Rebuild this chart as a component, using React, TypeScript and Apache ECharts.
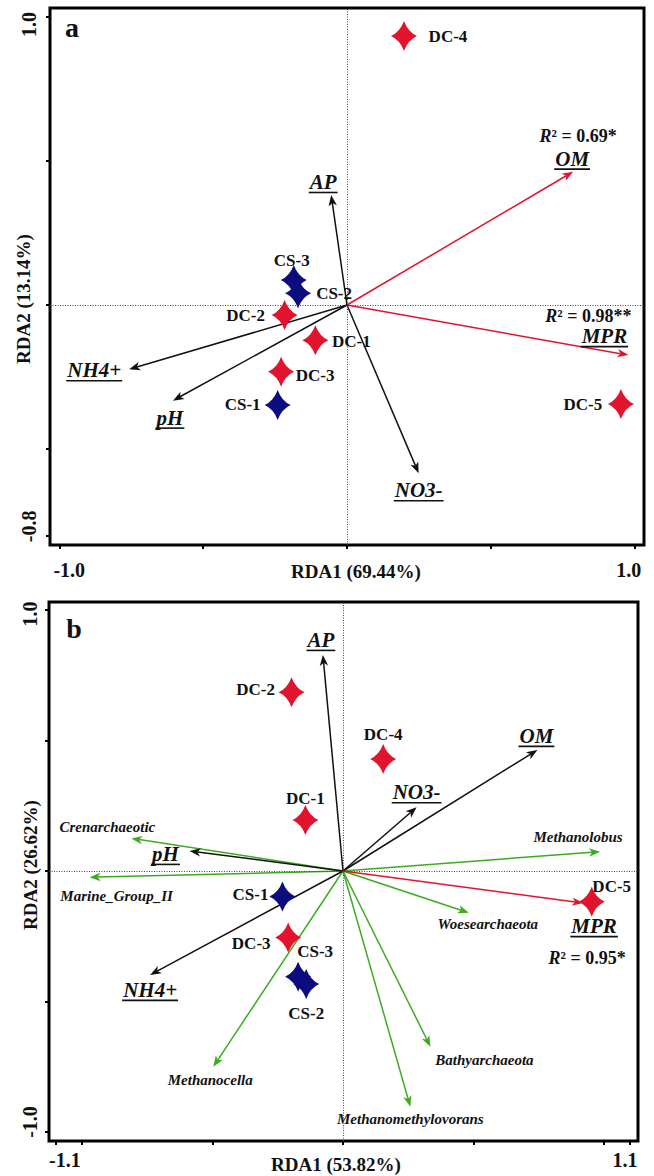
import React, { useEffect, useRef } from 'react';
import * as echarts from 'echarts';

const FONT = '"Liberation Serif", "Times New Roman", Times, serif';
const RED = '#E2142D';
const NAVY = '#0C0C7E';
const GREEN = '#3DAA22';
const INK = '#111111';

// ---------------- Panel a ----------------
const titleXA = 'RDA1 (69.44%)';
const titleYA = 'RDA2 (13.14%)';
const xTicksA = [-1, -0.5, 0, 0.5, 1];
const xTickLabelsA = [-1, 1];
const yTicksA = [-0.8, -0.5, 0, 0.5, 1];
const yTickLabelsA = [-0.8, 1];
const sitesA = ['DC-1', 'DC-2', 'DC-3', 'DC-4', 'DC-5', 'CS-1', 'CS-2', 'CS-3'];
const siteXA = [-0.110, -0.217, -0.229, 0.198, 0.952, -0.241, -0.170, -0.185];
const siteYA = [-0.122, -0.035, -0.232, 0.934, -0.344, -0.347, 0.041, 0.087];
const envA = ['AP', 'OM', 'MPR', 'NH4+', 'pH', 'NO3-'];
const envXA = [-0.055, 0.786, 0.978, -0.757, -0.605, 0.249];
const envYA = [0.382, 0.463, -0.174, -0.223, -0.332, -0.584];
const envSigA = [false, true, true, false, false, false];
const envR2A = ['', '0.69*', '0.98**', '', '', ''];

// ---------------- Panel b ----------------
const titleXB = 'RDA1 (53.82%)';
const titleYB = 'RDA2 (26.62%)';
const xTicksB = [-1.1, -1, -0.5, 0, 0.5, 1, 1.1];
const xTickLabelsB = [-1.1, 1.1];
const yTicksB = [-1, -0.5, 0, 0.5, 1];
const yTickLabelsB = [-1, 1];
const sitesB = ['DC-1', 'DC-2', 'DC-3', 'DC-4', 'DC-5', 'CS-1', 'CS-2', 'CS-3'];
const siteXB = [-0.144, -0.197, -0.210, 0.154, 0.953, -0.232, -0.141, -0.172];
const siteYB = [0.195, 0.685, -0.255, 0.429, -0.118, -0.098, -0.433, -0.405];
const envB = ['AP', 'OM', 'NO3-', 'pH', 'NH4+', 'MPR'];
const envXB = [-0.077, 0.745, 0.282, -0.588, -0.739, 0.920];
const envYB = [0.828, 0.464, 0.244, 0.077, -0.398, -0.123];
const envSigB = [false, false, false, false, false, true];
const envR2B = ['', '', '', '', '', '0.95*'];
const taxaB = ['Crenarchaeotic', 'Marine_Group_II', 'Methanolobus', 'Woesearchaeota', 'Bathyarchaeota', 'Methanomethylovorans', 'Methanocella'];
const taxaXB = [-0.811, -0.971, 0.985, 0.482, 0.335, 0.258, -0.497];
const taxaYB = [0.125, -0.024, 0.074, -0.160, -0.673, -0.903, -0.750];

// ---------------- layout (pixels / axis extents) ----------------
const GRID_A = { left: 50, top: 8, width: 594, height: 537 };
const GRID_B = { left: 49, top: 602, width: 589, height: 539 };
const RANGE_A = { xMin: -1.0323, xMax: 1.0323, yMin: -0.8333, yMax: 1.0313 };
const RANGE_B = { xMin: -1.1264, xMax: 1.1303, yMin: -1.0345, yMax: 1.0307 };

const siteOffA: Record<string, number[]> = {
  'DC-1': [36, 1], 'DC-2': [-39, 0], 'DC-3': [34, 4], 'DC-4': [44, 0],
  'DC-5': [-38, 0], 'CS-1': [-35, 0], 'CS-2': [36, 0], 'CS-3': [-2, -19],
};
const siteOffB: Record<string, number[]> = {
  'DC-1': [0, -22], 'DC-2': [-36, -3], 'DC-3': [-37, 6], 'DC-4': [0, -25],
  'DC-5': [20, -15], 'CS-1': [-32, -2], 'CS-2': [0, 29], 'CS-3': [17, -25],
};
const envOffA: Record<string, number[]> = {
  AP: [-8, -13], OM: [-1, -13], MPR: [-24, -19], 'NH4+': [-35, 1], pH: [-3, 17], 'NO3-': [0, 17],
};
const r2OffA: Record<string, number[]> = { OM: [5, -36], MPR: [-40, -39] };
const envOffB: Record<string, number[]> = {
  AP: [-2, -15], OM: [-1, -14], 'NO3-': [0, -15], pH: [-24, 3], 'NH4+': [0, 15], MPR: [11, 23],
};
const r2OffB: Record<string, number[]> = { MPR: [4, 55] };
const taxaOffB: Record<string, number[]> = {
  Crenarchaeotic: [-24, -11], Marine_Group_II: [27, 19], Methanolobus: [-22, -15],
  Woesearchaeota: [19, 11], Bathyarchaeota: [54, 13], Methanomethylovorans: [0, 12], Methanocella: [-3, 13],
};

const STAR = 'path://M0,-15 Q4,-4 13,0 Q4,4 0,15 Q-4,4 -13,0 Q-4,-4 0,-15 Z';

let measureCtx: CanvasRenderingContext2D | null = null;
function textWidth(t: string, font: string) {
  if (!measureCtx) measureCtx = document.createElement('canvas').getContext('2d');
  if (!measureCtx) return t.length * 10;
  measureCtx.font = font;
  return measureCtx.measureText(t).width;
}

type VecOpts = {
  grid: number;
  names: string[];
  xs: number[];
  ys: number[];
  color: (i: number) => string;
  labelOff: Record<string, number[]>;
  fontSize: number;
  underline: boolean;
  r2?: string[];
  r2Off?: Record<string, number[]>;
  z: number;
  zeroLines?: boolean;
};

function vectorSeries(o: VecOpts) {
  const varFont = `italic bold ${o.fontSize}px ${FONT}`;
  const s: any = {
    type: 'custom',
    xAxisIndex: o.grid,
    yAxisIndex: o.grid,
    z: o.z,
    silent: true,
    clip: false,
    data: o.names.map((n, i) => [o.xs[i], o.ys[i]]),
    encode: { x: 0, y: 1 },
    renderItem: (params: any, api: any) => {
      const i = params.dataIndex;
      const name = o.names[i];
      const col = o.color(i);
      const p0 = api.coord([0, 0]);
      const p1 = api.coord([api.value(0), api.value(1)]);
      const dx = p1[0] - p0[0];
      const dy = p1[1] - p0[1];
      const len = Math.hypot(dx, dy) || 1;
      const ux = dx / len, uy = dy / len;
      const px = -uy, py = ux;
      const L = 11, W = 4.2, N = 3;
      const bx = p1[0] - ux * L, by = p1[1] - uy * L;
      const nx = p1[0] - ux * (L - N), ny = p1[1] - uy * (L - N);
      const children: any[] = [
        { type: 'line', shape: { x1: p0[0], y1: p0[1], x2: nx, y2: ny }, style: { stroke: col, lineWidth: 1.5 } },
        {
          type: 'polygon',
          shape: { points: [[p1[0], p1[1]], [bx + px * W, by + py * W], [nx, ny], [bx - px * W, by - py * W]] },
          style: { fill: col },
        },
      ];
      const off = o.labelOff[name] || [0, 0];
      const cx = p1[0] + off[0], cy = p1[1] + off[1];
      children.push({
        type: 'text', x: cx, y: cy,
        style: {
          text: name, fill: INK, fontFamily: FONT, fontWeight: 'bold', fontStyle: 'italic',
          fontSize: o.fontSize, align: 'center', verticalAlign: 'middle',
        },
      });
      if (o.underline) {
        const w = textWidth(name, varFont);
        const uy2 = cy + o.fontSize * 0.5;
        children.push({
          type: 'line',
          shape: { x1: cx - w / 2 - 1, y1: uy2, x2: cx + w / 2 + 1, y2: uy2 },
          style: { stroke: INK, lineWidth: 1.6 },
        });
      }
      if (o.r2 && o.r2[i]) {
        const ro = (o.r2Off && o.r2Off[name]) || [0, -30];
        children.push({
          type: 'text', x: p1[0] + ro[0], y: p1[1] + ro[1],
          style: {
            text: `{ri|R}{n|\u00B2 = ${o.r2[i]}}`,
            align: 'center', verticalAlign: 'middle',
            rich: {
              ri: { fontFamily: FONT, fontWeight: 'bold', fontStyle: 'italic', fontSize: 18, fill: INK },
              n: { fontFamily: FONT, fontWeight: 'bold', fontSize: 18, fill: INK },
            },
          },
        });
      }
      return { type: 'group', children };
    },
  };
  if (o.zeroLines) {
    s.markLine = {
      silent: true,
      symbol: ['none', 'none'],
      label: { show: false },
      lineStyle: { type: [1, 1.5], color: '#444', width: 1 },
      data: [{ xAxis: 0 }, { yAxis: 0 }],
    };
  }
  return s;
}

function siteSeries(grid: number, names: string[], xs: number[], ys: number[], off: Record<string, number[]>) {
  return {
    type: 'scatter',
    xAxisIndex: grid,
    yAxisIndex: grid,
    z: 6,
    silent: true,
    symbol: STAR,
    symbolSize: [26, 30],
    itemStyle: { opacity: 1 },
    data: names.map((n, i) => ({
      name: n,
      value: [xs[i], ys[i]],
      itemStyle: { color: n.startsWith('DC') ? RED : NAVY, opacity: 1 },
      label: { offset: off[n] || [0, 0] },
    })),
    label: {
      show: true, position: 'inside', formatter: '{b}', color: INK, opacity: 1,
      textBorderWidth: 0,
      fontFamily: FONT, fontWeight: 'bold', fontSize: 17, align: 'center', verticalAlign: 'middle',
    },
  };
}

const tickFont = { fontFamily: FONT, fontWeight: 'bold' as const, fontSize: 20, color: INK };

function xAxisFor(grid: number, range: any, ticks: number[], labels: number[], margin: number, padLo: number, padHi: number) {
  return {
    type: 'value', gridIndex: grid, min: range.xMin, max: range.xMax,
    axisLine: { show: false, onZero: false },
    axisTick: { show: true, inside: false, length: 4, customValues: ticks, lineStyle: { color: '#000', width: 2 } },
    splitLine: { show: false },
    axisLabel: {
      show: true, customValues: labels, margin,
      formatter: (v: number) => (v < 0 ? `{lo|${v.toFixed(1)}}` : `{hi|${v.toFixed(1)}}`),
      rich: {
        lo: { ...tickFont, padding: [0, 0, 0, padLo] },
        hi: { ...tickFont, padding: [0, padHi, 0, 0] },
      },
    },
  };
}

function yAxisFor(grid: number, range: any, ticks: number[], labels: number[], margin: number, padTop: number, padBot: number) {
  return {
    type: 'value', gridIndex: grid, min: range.yMin, max: range.yMax,
    axisLine: { show: false, onZero: false },
    axisTick: { show: true, inside: false, length: 4, customValues: ticks, lineStyle: { color: '#000', width: 2 } },
    splitLine: { show: false },
    axisLabel: {
      show: true, customValues: labels, margin, rotate: 90,
      formatter: (v: number) => (v > 0 ? `{top|${v.toFixed(1)}}` : `{bot|${v.toFixed(1)}}`),
      rich: {
        top: { ...tickFont, padding: [0, padTop, 0, 0] },
        bot: { ...tickFont, padding: [0, 0, 0, padBot] },
      },
    },
  };
}

function gridFor(g: any) {
  return { ...g, show: true, borderColor: '#000', borderWidth: 3, backgroundColor: 'transparent', containLabel: false };
}

function titleText(text: string, x: number, y: number, rotate: boolean, size = 19) {
  return {
    type: 'text', x, y, rotation: rotate ? Math.PI / 2 : 0, silent: true,
    style: { text, fill: INK, fontFamily: FONT, fontWeight: 'bold', fontSize: size, align: 'center', verticalAlign: 'middle' },
  };
}

export default function App() {
  const ref = useRef<HTMLDivElement>(null);
  useEffect(() => {
    if (!ref.current) return;
    const chart = echarts.init(ref.current, undefined, { renderer: 'svg' });
    const option: any = {
      animation: false,
      backgroundColor: '#ffffff',
      grid: [gridFor(GRID_A), gridFor(GRID_B)],
      xAxis: [
        xAxisFor(0, RANGE_A, xTicksA, xTickLabelsA, 15, 20, 12),
        xAxisFor(1, RANGE_B, xTicksB, xTickLabelsB, 9, 18, 10),
      ],
      yAxis: [
        yAxisFor(0, RANGE_A, yTicksA, yTickLabelsA, 11, 15, 18),
        yAxisFor(1, RANGE_B, yTicksB, yTickLabelsB, 9, 8, 20),
      ],
      series: [
        vectorSeries({
          grid: 0, names: envA, xs: envXA, ys: envYA,
          color: (i) => (envSigA[i] ? RED : INK),
          labelOff: envOffA, fontSize: 21, underline: true, r2: envR2A, r2Off: r2OffA, z: 3, zeroLines: true,
        }),
        siteSeries(0, sitesA, siteXA, siteYA, siteOffA),
        vectorSeries({
          grid: 1, names: taxaB, xs: taxaXB, ys: taxaYB,
          color: () => GREEN, labelOff: taxaOffB, fontSize: 15, underline: false, z: 3, zeroLines: true,
        }),
        vectorSeries({
          grid: 1, names: envB, xs: envXB, ys: envYB,
          color: (i) => (envSigB[i] ? RED : INK),
          labelOff: envOffB, fontSize: 21, underline: true, r2: envR2B, r2Off: r2OffB, z: 4,
        }),
        siteSeries(1, sitesB, siteXB, siteYB, siteOffB),
      ],
      graphic: [
        titleText('a', 72, 27, false, 28),
        titleText('b', 74, 628, false, 28),
        titleText(titleXA, 356, 571, false),
        titleText(titleYA, 23, 299, true),
        titleText(titleXB, 336, 1164, false),
        titleText(titleYB, 30, 865, true),
      ],
    };
    chart.setOption(option);
    return () => chart.dispose();
  }, []);
  return <div ref={ref} style={{ position: 'absolute', left: 0, top: 0, width: 654, height: 1176 }} />;
}
